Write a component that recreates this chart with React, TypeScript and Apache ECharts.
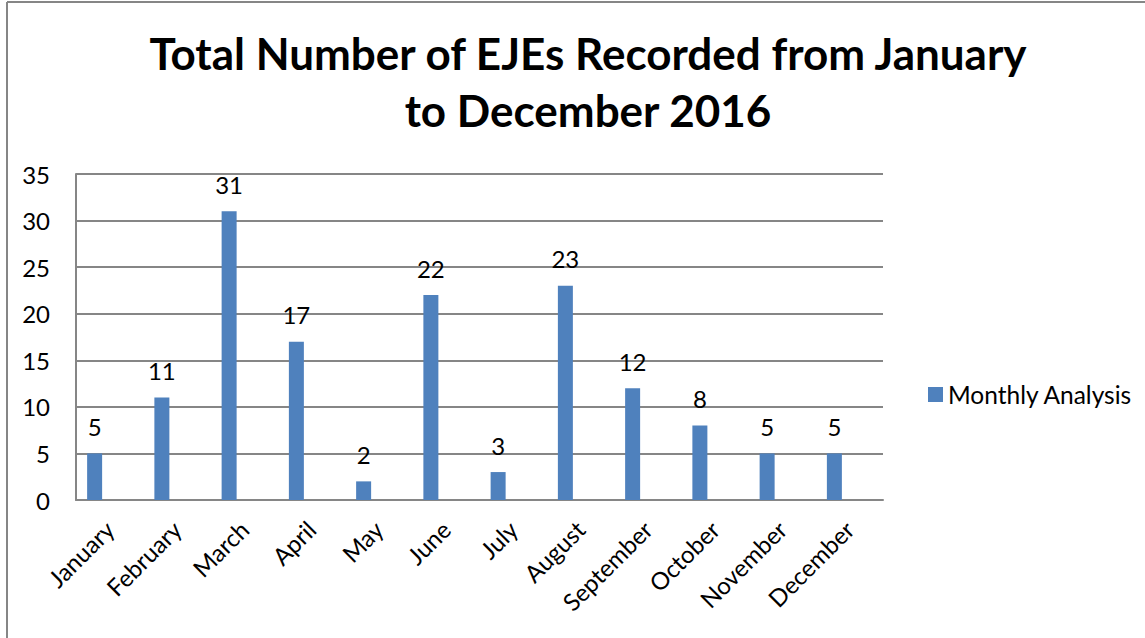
import React, { useEffect, useRef } from "react";
import * as echarts from "echarts";

const titleLines = ["Total Number of EJEs Recorded from January", "to December 2016"];
const months = ["January", "February", "March", "April", "May", "June", "July", "August", "September", "October", "November", "December"];
const monthlyAnalysis = [5, 11, 31, 17, 2, 22, 3, 23, 12, 8, 5, 5];
// empty companion series (the original Excel chart reserves a second, blank bar slot per month)
const blankSeries: (number | null)[] = [null, null, null, null, null, null, null, null, null, null, null, null];
const seriesName = "Monthly Analysis";

const FONT = "Lato, 'Open Sans', sans-serif";

export default function App() {
  const ref = useRef<HTMLDivElement>(null);
  useEffect(() => {
    document.body.style.margin = "0";
    if (!ref.current) return;
    const chart = echarts.init(ref.current, null, { renderer: "svg" });
    chart.setOption({
      animation: false,
      backgroundColor: "#ffffff",
      title: {
        text: titleLines.join("\n"),
        left: 583,
        top: 19,
        textAlign: "center",
        textStyle: { fontFamily: FONT, fontWeight: "bold", fontSize: 44, color: "#000", lineHeight: 57 },
      },
      legend: {
        data: [seriesName],
        left: 923,
        top: 377,
        icon: "rect",
        itemWidth: 15,
        itemHeight: 15,
        itemGap: 6,
        textStyle: { fontFamily: FONT, fontSize: 24.5, color: "#000" },
      },
      grid: { left: 76, right: 262, top: 174, bottom: 138, containLabel: false },
      xAxis: {
        type: "category",
        data: months,
        axisLine: { lineStyle: { color: "#868686", width: 2 } },
        axisTick: { show: false },
        axisLabel: { rotate: 45, margin: 25, fontFamily: FONT, fontSize: 24, color: "#000", interval: 0 },
      },
      yAxis: {
        type: "value",
        min: 0,
        max: 35,
        interval: 5,
        axisLine: { show: true, lineStyle: { color: "#868686", width: 2 } },
        axisTick: { show: false },
        splitLine: { lineStyle: { color: "#868686", width: 2 } },
        axisLabel: { margin: 26, fontFamily: FONT, fontSize: 24, color: "#000" },
      },
      series: [
        {
          name: seriesName,
          type: "bar",
          data: monthlyAnalysis,
          barWidth: 15,
          barGap: "100%",
          itemStyle: { color: "#4F81BD" },
          label: { show: true, position: "top", distance: 15, fontFamily: FONT, fontSize: 24, color: "#000" },
        },
        {
          name: "blank",
          type: "bar",
          data: blankSeries,
          barWidth: 15,
          barGap: "100%",
          itemStyle: { color: "transparent" },
        },
      ],
      graphic: [
        { type: "line", shape: { x1: 7, y1: 2, x2: 1145, y2: 2 }, style: { stroke: "#868686", lineWidth: 2 } },
        { type: "line", shape: { x1: 7, y1: 2, x2: 7, y2: 638 }, style: { stroke: "#868686", lineWidth: 2 } },
      ],
    });
    return () => chart.dispose();
  }, []);
  return <div ref={ref} style={{ width: 1145, height: 638 }} />;
}
